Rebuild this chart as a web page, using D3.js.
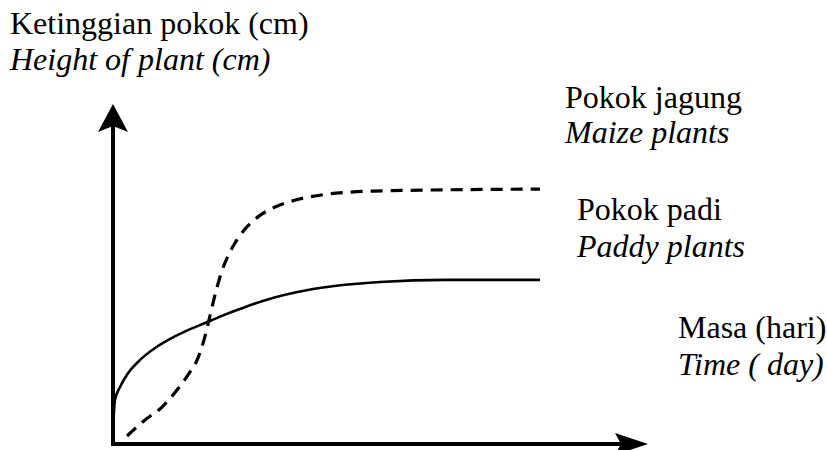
<!DOCTYPE html>
<html>
<head>
<meta charset="utf-8">
<script src="https://cdn.jsdelivr.net/npm/d3@7"></script>
</head>
<body style="margin:0">
<script>
// Data (arbitrary units: time 0-100, height 0-100)
const paddyTime   = [0, 0.04, 0.15, 0.37, 1.31, 2.8, 4.67, 7.85, 11.03, 14.02, 17.2, 20.37, 23.7, 28, 37.4, 49.9, 62.4, 79.8];
const paddyHeight = [0, 4.7, 8.6, 13, 16.8, 20.9, 24.2, 28.3, 31.3, 33.6, 35.7, 37.8, 39.8, 42.2, 45.7, 47.8, 48.4, 48.4];

const maizeTime   = [2.62, 5.98, 9.16, 11.96, 14.02, 15.89, 17.01, 17.85, 18.6, 19.35, 20.28, 21.5, 22.8, 24.67, 27.1, 30.28, 34.95, 40, 44.3, 48.6, 79.8];
const maizeHeight = [2.36, 7.08, 10.9, 15.9, 20.4, 25.4, 30.7, 36.0, 41.0, 45.7, 50.7, 55.5, 59.3, 63.4, 67.0, 69.9, 72.3, 73.7, 74.3, 74.6, 75.2];

const yTitle = ["Ketinggian pokok (cm)", "Height of plant (cm)"];
const xTitle = ["Masa (hari)", "Time ( day)"];
const maizeLabel = ["Pokok jagung", "Maize plants"];
const paddyLabel = ["Pokok padi", "Paddy plants"];

const W = 827, H = 450;
const svg = d3.select("body").append("svg").attr("width", W).attr("height", H);

const x = d3.scaleLinear().domain([0, 100]).range([113, 648]);
const y = d3.scaleLinear().domain([0, 100]).range([444, 105]);

// Axes
svg.append("line")
  .attr("x1", x(0)).attr("y1", y(0) + 2)
  .attr("x2", x(0)).attr("y2", y(100) + 20)
  .attr("stroke", "#000").attr("stroke-width", 4);
svg.append("line")
  .attr("x1", x(0) - 2).attr("y1", y(0))
  .attr("x2", x(100) - 25).attr("y2", y(0))
  .attr("stroke", "#000").attr("stroke-width", 4);

// Arrowheads
const yt = [x(0), y(100)];
svg.append("path")
  .attr("d", `M${yt[0]},${yt[1] - 1} L${yt[0] - 15},${yt[1] + 27} L${yt[0]},${yt[1] + 21} L${yt[0] + 15},${yt[1] + 27} Z`)
  .attr("fill", "#000");
const xt = [x(100), y(0)];
svg.append("path")
  .attr("d", `M${xt[0]},${xt[1]} L${xt[0] - 33},${xt[1] - 11} L${xt[0] - 27},${xt[1]} L${xt[0] - 33},${xt[1] + 11} Z`)
  .attr("fill", "#000");

const line = d3.line()
  .x(d => x(d[0])).y(d => y(d[1]))
  .curve(d3.curveMonotoneX);

svg.append("path")
  .datum(paddyTime.map((t, i) => [t, paddyHeight[i]]))
  .attr("d", line)
  .attr("fill", "none").attr("stroke", "#000").attr("stroke-width", 2.6);

svg.append("path")
  .datum(maizeTime.map((t, i) => [t, maizeHeight[i]]))
  .attr("d", line)
  .attr("fill", "none").attr("stroke", "#000").attr("stroke-width", 3.2)
  .attr("stroke-dasharray", "12,8");

function label(lines, xp, y1, gap) {
  lines.forEach((s, i) => {
    const t = svg.append("text")
      .attr("x", xp).attr("y", y1 + i * gap)
      .attr("font-size", 32)
      .attr("font-family", "'Liberation Serif'");
    if (i === 1) t.attr("font-style", "italic");
    t.text(s);
  });
}
label(yTitle, 10, 34, 36);
label(maizeLabel, 565, 108, 35);
label(paddyLabel, 577, 220, 37);
label(xTitle, 678, 338, 37);
</script>
</body>
</html>
